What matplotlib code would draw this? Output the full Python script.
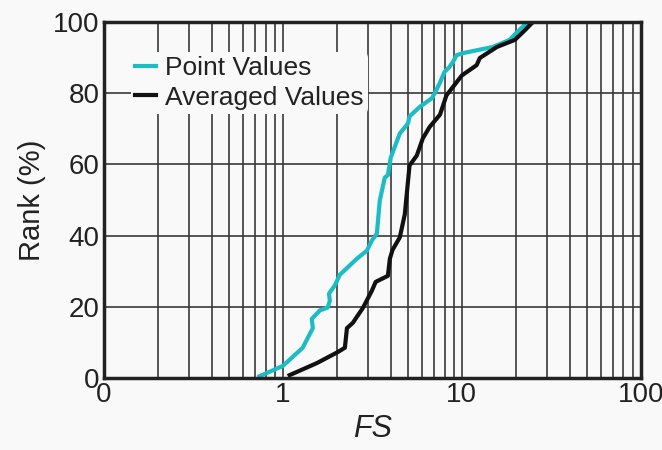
import matplotlib
matplotlib.use("Agg")
import matplotlib.pyplot as plt
from matplotlib.ticker import FixedLocator, FixedFormatter, NullFormatter

plt.rcParams['font.family'] = ['Liberation Sans', 'DejaVu Sans']

# Point values (cyan)
point_fs = [0.74, 1.0, 1.29, 1.47, 1.45, 1.61, 1.78, 1.83, 1.81, 1.95, 2.08, 2.59, 2.95,
            3.14, 3.35, 3.48, 3.71, 3.86, 4.01, 4.5, 5.0, 5.1, 5.83, 6.8, 7.1, 7.55,
            8.0, 8.5, 8.9, 9.35, 10.2, 14.9, 18.5, 20.2, 23.3]
point_rank = [0.5, 3.4, 8.5, 14.0, 16.6, 19.0, 19.8, 21.7, 23.7, 26.0, 29.0, 33.5, 35.8,
              38.6, 40.6, 49.9, 56.3, 57.0, 62.0, 68.7, 71.5, 73.5, 76.2, 78.6, 80.3, 83.0,
              86.0, 87.3, 88.7, 90.7, 91.3, 93.0, 95.0, 97.0, 100.0]

# Averaged values (black)
avg_fs = [1.09, 1.55, 2.03, 2.22, 2.28, 2.46, 2.8, 3.14, 3.3, 3.86, 3.96, 4.1, 4.5, 4.8,
          5.1, 5.6, 6.05, 6.6, 7.55, 8.2, 10.0, 12.1, 12.6, 15.7, 19.8, 22.5, 24.5]
avg_rank = [0.8, 4.2, 7.3, 8.5, 14.0, 15.5, 19.7, 24.5, 27.0, 28.7, 33.5, 36.0, 39.5, 46.0,
            59.7, 62.5, 67.3, 70.5, 74.0, 79.4, 85.0, 87.9, 89.9, 93.0, 95.0, 97.7, 99.6]

x_ticks = [0.1, 1, 10, 100]
x_labels = ['0', '1', '10', '100']
y_ticks = [0, 20, 40, 60, 80, 100]

bg = '#f9f9f9'
fig = plt.figure(figsize=(6.62, 4.5), dpi=100, facecolor=bg)
ax = fig.add_axes([0.157, 0.16, 0.811, 0.791], facecolor=bg)

ax.set_xscale('log')
ax.set_xlim(0.1, 100)
ax.set_ylim(0, 100)

ax.xaxis.set_major_locator(FixedLocator(x_ticks))
ax.xaxis.set_major_formatter(FixedFormatter(x_labels))
minor = [m * d for d in (0.1, 1, 10) for m in range(2, 10)]
ax.xaxis.set_minor_locator(FixedLocator(minor))
ax.xaxis.set_minor_formatter(NullFormatter())
ax.set_yticks(y_ticks)

ax.grid(True, which='both', axis='x', color='#3a3a3a', lw=1.2)
ax.grid(True, which='major', axis='y', color='#3a3a3a', lw=1.2)
ax.set_axisbelow(True)
ax.tick_params(which='both', length=0, labelsize=20, colors='#222222', pad=3)

for s in ax.spines.values():
    s.set_linewidth(2.5)
    s.set_color('#222222')

ax.plot(point_fs, point_rank, color='#1cbcc4', lw=3, label='Point Values')
ax.plot(avg_fs, avg_rank, color='#111111', lw=3, label='Averaged Values')

ax.set_xlabel('FS', fontsize=22, style='italic', color='#222222', labelpad=4)
ax.set_ylabel('Rank (%)', fontsize=21, color='#222222', labelpad=5)

leg = ax.legend(loc='upper left', bbox_to_anchor=(0.05, 0.915), frameon=True, fontsize=19,
                handlelength=0.8, handletextpad=0.35, labelspacing=0.2, borderpad=0.15,
                borderaxespad=0)
leg.get_frame().set_facecolor(bg)
leg.get_frame().set_edgecolor('none')
leg.get_frame().set_alpha(1)
for t in leg.get_texts():
    t.set_color('#222222')

fig.savefig('out.png', dpi=100, facecolor=bg)
